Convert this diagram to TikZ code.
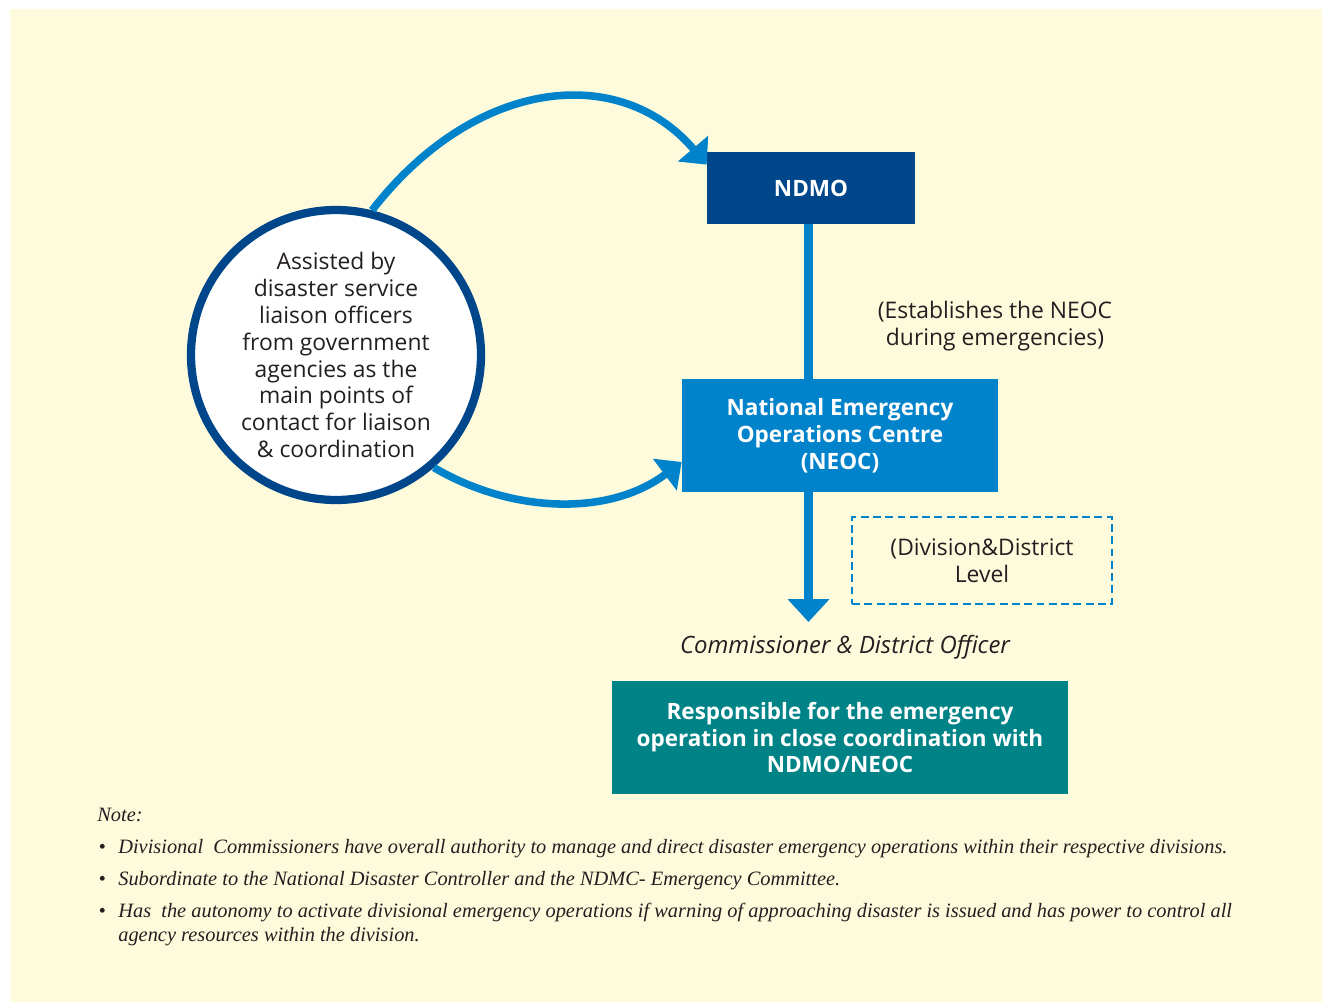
\documentclass[tikz,border=0pt]{standalone}
\usepackage{fontspec}
\setmainfont{Open Sans}
\newfontfamily\notefont{Liberation Serif}
\usepackage{tikz}
\usetikzlibrary{arrows.meta,positioning,calc}
\usepackage{xcolor}
\definecolor{paper}{HTML}{FEFADC}
\definecolor{ndmoblue}{HTML}{00468A}
\definecolor{neocblue}{HTML}{0083CA}
\definecolor{tealbox}{HTML}{008387}
\definecolor{ink}{HTML}{231F20}

\begin{document}
\begin{tikzpicture}[
  every node/.style={font=\fontsize{13}{15.3}\selectfont, text=ink},
  box/.style={rectangle, inner sep=0pt, align=center, text=white,
    font=\fontsize{12.8}{15.3}\selectfont\bfseries},
  flow/.style={draw=neocblue, line width=4.3pt, -{Triangle[length=12pt,width=22pt]}},
  stem/.style={draw=neocblue, line width=5pt},
  note/.style={anchor=base west, inner sep=0pt, font=\notefont\fontsize{11.6}{13.6}\selectfont\itshape}
]
  % Frame
  \useasboundingbox (0,0) rectangle (26.44,-20.04);
  \fill[paper] (0.2,-0.18) rectangle (26.44,-20.04);

  % Boxes
  \node[box, fill=ndmoblue, minimum width=4.16cm, minimum height=1.44cm] (ndmo) at (16.22,-3.76) {NDMO};
  \node[box, fill=neocblue, minimum width=6.32cm, minimum height=2.26cm] (neoc) at (16.8,-8.71)
    {National Emergency\\Operations Centre\\(NEOC)};
  \node[box, fill=tealbox, minimum width=9.12cm, minimum height=2.26cm] (resp) at (16.8,-14.75)
    {Responsible for the emergency\\operation in close coordination with\\NDMO/NEOC};

  % Liaison circle
  \node[circle, draw=ndmoblue, line width=4.7pt, fill=white, minimum size=5.8cm, inner sep=0pt,
    align=center] (circ) at (6.72,-7.1)
    {Assisted by\\disaster service\\liaison officers\\from government\\agencies as the\\main points of\\contact for liaison\\\& coordination};

  % Side labels
  \node[align=center] (estab) at (19.9,-6.52) {(Establishes the NEOC\\during emergencies)};
  \node[draw=neocblue, line width=1.2pt, dash pattern=on 4.5pt off 2.5pt, align=center,
    minimum width=5.2cm, minimum height=1.74cm, inner sep=0pt] (level) at (19.64,-11.21)
    {(Division\&District\\Level};
  \node[font=\fontsize{13.6}{15}\selectfont\itshape] (officer) at (16.9,-12.94)
    {Commissioner \& District Officer};

  % Connectors
  \coordinate (tip) at (16.17,-12.44);
  \draw[stem] (ndmo.south -| tip) -- (neoc.north -| tip);
  \draw[stem, -{Triangle[length=13pt,width=23pt]}] (neoc.south -| tip) -- (tip);
  \draw[flow] (circ.76) .. controls (9.5,-1.55) and (12.4,-1.25) .. ([yshift=-0.26cm]ndmo.north west);
  \draw[flow] (circ.-49) .. controls (10.2,-10.25) and (12.16,-10.35) .. ([yshift=-0.53cm]neoc.west);

  % Note
  \node[note] (nhead) at (1.94,-16.42) {Note:};
  \node[note] (nA) at (2.36,-17.06) {\llap{\textbullet\hspace{0.25cm}}Divisional\ \ Commissioners have overall authority to manage and direct disaster emergency operations within their respective divisions.};
  \node[note] (nB) at (2.36,-17.70) {\llap{\textbullet\hspace{0.25cm}}Subordinate to the National Disaster Controller and the NDMC- Emergency Committee.};
  \node[note] (nC) at (2.36,-18.34) {\llap{\textbullet\hspace{0.25cm}}Has\ \ the autonomy to activate divisional emergency operations if warning of approaching disaster is issued and has power to control all};
  \node[note] (nD) at (2.36,-18.82) {agency resources within the division.};
\end{tikzpicture}
\end{document}
